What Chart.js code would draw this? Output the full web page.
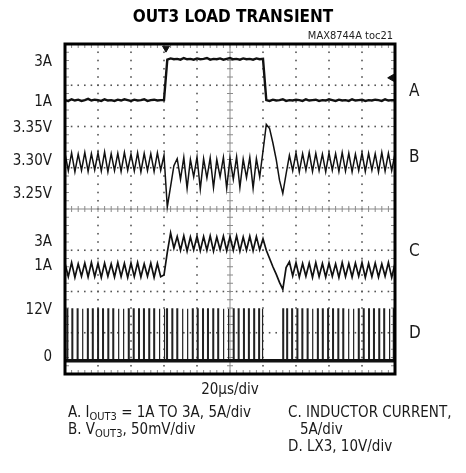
<!DOCTYPE html>
<html>
<head>
<meta charset="utf-8">
<script src="https://cdn.jsdelivr.net/npm/chart.js@4"></script>
<style>
  body { margin: 0; background: #fff; }
  #wrap { position: relative; width: 466px; height: 473px; }
  .note { position: absolute; font-family: "Liberation Sans Narrow", "DejaVu Sans Condensed", sans-serif; font-size: 15px; color: #1a1a1a; white-space: nowrap; }
  .note sub { font-size: 11px; vertical-align: -3px; line-height: 0; }
  #toc { position: absolute; right: 73px; top: 29px; font-family: "Liberation Sans Narrow", "DejaVu Sans Condensed", sans-serif; font-size: 11px; color: #222; }
</style>
</head>
<body>
<div id="wrap">
  <canvas id="myChart" width="466" height="473"></canvas>
  <div id="toc">MAX8744A toc21</div>
  <div class="note" style="left:68px; top:403px;">A. I<sub>OUT3</sub> = 1A TO 3A, 5A/div</div>
  <div class="note" style="left:68px; top:420px;">B. V<sub>OUT3</sub>, 50mV/div</div>
  <div class="note" style="left:288px; top:403px;">C. INDUCTOR CURRENT,</div>
  <div class="note" style="left:300px; top:420px;">5A/div</div>
  <div class="note" style="left:288px; top:437px;">D. LX3, 10V/div</div>
</div>
<script>
// time axis in µs (20µs/div), samples every 2µs; traces in screen divisions (0 = bottom, 8 = top)
const tStep = 2;

const traceA = [6.64,6.62,6.66,6.63,6.65,6.62,6.64,6.67,6.63,6.65,6.64,6.62,6.66,6.63,6.64,6.62,6.65,6.63,6.66,6.64,6.62,6.65,6.63,6.64,6.66,6.62,6.64,6.65,6.63,6.64,6.64,
  7.62,7.65,7.63,7.64,7.62,7.66,7.63,7.64,7.62,7.65,7.63,7.64,7.66,7.62,7.64,7.63,7.65,7.62,7.64,7.66,7.63,7.64,7.62,7.65,7.63,7.64,7.62,7.65,7.63,7.64,
  6.64,6.62,6.65,6.63,6.64,6.66,6.62,6.64,6.63,6.65,6.64,6.62,6.66,6.63,6.64,6.65,6.62,6.64,6.63,6.66,6.64,6.62,6.65,6.63,6.64,6.62,6.66,6.63,6.64,6.65,6.62,6.64,6.63,6.65,6.64,6.62,6.66,6.63,6.64,6.64];

const traceB = [5.35,4.93,5.36,4.90,5.33,4.94,5.37,4.91,5.34,4.95,5.36,4.92,5.38,4.90,5.34,4.93,5.35,4.91,5.37,4.94,5.33,4.92,5.36,4.90,5.35,4.93,5.34,4.91,5.36,4.94,
  5.30,4.05,4.55,5.05,
  5.22,4.72,5.25,4.50,5.20,4.78,5.26,4.48,5.22,4.75,5.24,4.52,5.20,4.78,5.25,4.50,5.23,4.72,5.26,4.52,5.21,4.76,5.25,4.50,5.22,4.78,
  5.40,6.05,5.95,5.60,5.20,4.70,4.38,4.85,5.30,
  4.93,5.36,4.90,5.34,4.94,5.37,4.91,5.35,4.93,5.33,4.90,5.36,4.94,5.34,4.91,5.37,4.92,5.35,4.90,5.33,4.93,5.36,4.91,5.35,4.94,5.34,4.90,5.37,4.92,5.35,4.93,5.34];

const traceC = [2.68,2.36,2.70,2.34,2.67,2.37,2.69,2.35,2.70,2.36,2.68,2.34,2.69,2.37,2.67,2.35,2.70,2.36,2.68,2.34,2.69,2.36,2.70,2.35,2.67,2.37,2.69,2.34,2.68,2.36,
  2.40,2.95,3.42,3.05,
  3.33,3.00,3.35,2.98,3.32,3.01,3.34,2.99,3.33,3.00,3.35,2.98,3.32,3.01,3.34,2.99,3.33,3.00,3.35,2.98,3.32,3.00,3.34,2.99,3.33,3.01,
  3.28,3.00,2.80,2.60,2.42,2.22,2.05,2.58,2.72,
  2.38,2.70,2.35,2.68,2.37,2.69,2.34,2.70,2.36,2.68,2.35,2.69,2.37,2.67,2.34,2.70,2.36,2.68,2.35,2.69,2.37,2.70,2.34,2.68,2.36,2.69,2.35,2.67,2.37,2.70,2.34,2.68];

// LX3 switching edges (µs) and levels (divisions)
const pulseTimes = [1.2,4.2,7.4,10.4,13.6,16.6,19.8,22.8,26,29,32.2,35.2,38.4,41.4,44.6,47.6,50.8,53.8,57,60,
  61.6,64.8,67.8,71,74,77.2,80.2,83.4,86.4,89.6,92.6,95.8,98.8,102,105,108.2,111.2,114.4,117.4,119.4,
  132,134.4,137.4,140.6,143.6,146.8,149.8,153,156,159.2,162.2,165.4,168.4,171.6,174.6,177.8,180.8,184,187,190.2,193.2,196.4,199];
const pulseWidth = 0.5;
const dLow = 0.32;
const dHigh = 1.58;

// left-side level labels and where they sit (divisions)
const leftLabels = ['3A', '1A', '3.35V', '3.30V', '3.25V', '3A', '1A', '12V', '0'];
const leftLabelPos = [7.55, 6.6, 5.96, 5.16, 4.36, 3.2, 2.62, 1.55, 0.41];
const rightLabels = ['A', 'B', 'C', 'D'];
const rightLabelPos = [6.84, 5.24, 2.96, 0.99];

// trigger / reference markers
const markerT = [61.2, 198];
const markerY = [7.9, 7.18];

const fontFam = '"Liberation Sans Narrow", "DejaVu Sans Condensed", sans-serif';

function toPoints(arr) {
  return arr.map((v, i) => ({x: i * tStep, y: v}));
}

var pulsePts = [{x: 0, y: dLow}];
pulseTimes.forEach(function(t) {
  pulsePts.push({x: t, y: dLow}, {x: t, y: dHigh}, {x: t + pulseWidth, y: dHigh}, {x: t + pulseWidth, y: dLow});
});
pulsePts.push({x: 200, y: dLow});

const graticule = {
  id: 'graticule',
  beforeDatasetsDraw(chart) {
    const {ctx, chartArea: a, scales: {x, y}} = chart;
    ctx.save();
    ctx.fillStyle = '#555';
    for (let i = 1; i < 10; i++) {
      if (i === 5) continue;
      const px = x.getPixelForValue(i * 20);
      for (let j = 1; j < 40; j++) ctx.fillRect(px - 0.8, y.getPixelForValue(j * 0.2) - 0.8, 1.6, 1.6);
    }
    for (let j = 1; j < 8; j++) {
      if (j === 4) continue;
      const py = y.getPixelForValue(j);
      for (let k = 1; k < 50; k++) ctx.fillRect(x.getPixelForValue(k * 4) - 0.8, py - 0.8, 1.6, 1.6);
    }
    const cx = x.getPixelForValue(100), cy = y.getPixelForValue(4);
    ctx.strokeStyle = '#8a8a8a';
    ctx.lineWidth = 1;
    ctx.beginPath();
    ctx.moveTo(a.left, cy); ctx.lineTo(a.right, cy);
    ctx.moveTo(cx, a.top); ctx.lineTo(cx, a.bottom);
    for (let k = 1; k < 50; k++) {
      const px = x.getPixelForValue(k * 4);
      ctx.moveTo(px, cy - 3); ctx.lineTo(px, cy + 3);
      ctx.moveTo(px, a.top); ctx.lineTo(px, a.top + 4);
      ctx.moveTo(px, a.bottom - 4); ctx.lineTo(px, a.bottom);
    }
    for (let j = 1; j < 40; j++) {
      const py = y.getPixelForValue(j * 0.2);
      ctx.moveTo(cx - 3, py); ctx.lineTo(cx + 3, py);
      ctx.moveTo(a.left, py); ctx.lineTo(a.left + 4, py);
      ctx.moveTo(a.right - 4, py); ctx.lineTo(a.right, py);
    }
    ctx.stroke();
    ctx.restore();
  },
  afterDatasetsDraw(chart) {
    const {ctx, chartArea: a} = chart;
    ctx.save();
    ctx.strokeStyle = '#000';
    ctx.lineWidth = 3;
    ctx.strokeRect(a.left, a.top, a.right - a.left, a.bottom - a.top);
    ctx.restore();
  }
};

const ctx = document.getElementById('myChart');
const myChart = new Chart(ctx, {
  type: 'line',
  data: {
    datasets: [
      {label: 'A', data: toPoints(traceA), borderColor: '#111', borderWidth: 2.4},
      {label: 'B', data: toPoints(traceB), borderColor: '#111', borderWidth: 1.5},
      {label: 'C', data: toPoints(traceC), borderColor: '#111', borderWidth: 1.7},
      {label: 'D base', data: [{x: 0, y: dLow}, {x: 200, y: dLow}], borderColor: '#111', borderWidth: 3.5},
      {label: 'D', data: pulsePts, borderColor: '#222', borderWidth: 1.2},
      {label: 'markers', data: markerT.map((t, i) => ({x: t, y: markerY[i]})), showLine: false,
        pointStyle: 'triangle', pointRadius: 4, pointRotation: [180, -90],
        pointBackgroundColor: '#111', pointBorderColor: '#111', clip: false}
    ]
  },
  options: {
    responsive: false,
    animation: false,
    devicePixelRatio: 1,
    layout: {padding: {top: 0, left: 0, right: 0, bottom: 69}},
    elements: {point: {radius: 0}, line: {tension: 0}},
    plugins: {
      legend: {display: false},
      tooltip: {enabled: false},
      title: {
        display: true,
        text: 'OUT3 LOAD TRANSIENT',
        color: '#000',
        font: {family: fontFam, size: 17, weight: 'bold'},
        padding: {top: 7, bottom: 16.6}
      }
    },
    scales: {
      x: {
        type: 'linear', min: 0, max: 200,
        ticks: {display: false},
        grid: {display: false, drawTicks: false},
        border: {display: false},
        title: {display: true, text: '20µs/div', color: '#1a1a1a', font: {family: fontFam, size: 15}, padding: {top: 4, bottom: 5}},
        afterFit(s) { s.height = 30; }
      },
      y: {
        position: 'left', min: 0, max: 8,
        afterBuildTicks(s) { s.ticks = leftLabelPos.map(v => ({value: v})); },
        ticks: {autoSkip: false, padding: 13, color: '#1a1a1a', font: {family: fontFam, size: 15},
          callback: (v, i) => leftLabels[i]},
        grid: {display: false, drawTicks: false},
        border: {display: false},
        afterFit(s) { s.width = 65; }
      },
      yR: {
        position: 'right', min: 0, max: 8,
        afterBuildTicks(s) { s.ticks = rightLabelPos.map(v => ({value: v})); },
        ticks: {autoSkip: false, padding: 14, color: '#1a1a1a', font: {family: fontFam, size: 17},
          callback: (v, i) => rightLabels[i]},
        grid: {display: false, drawTicks: false},
        border: {display: false},
        afterFit(s) { s.width = 71; }
      }
    }
  },
  plugins: [graticule]
});
</script>
</body>
</html>
